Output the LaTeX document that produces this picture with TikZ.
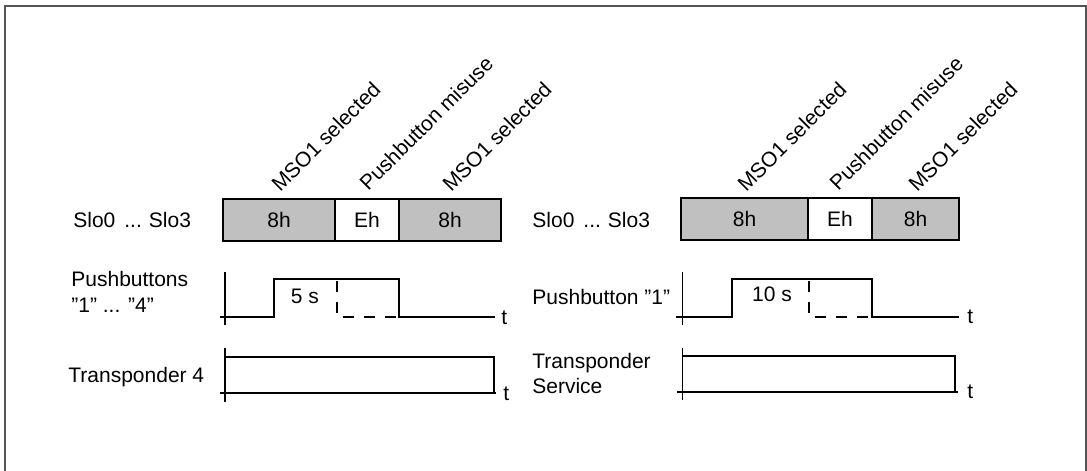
\documentclass[tikz,border=0pt]{standalone}
\usepackage{fontspec}
\setmainfont{Liberation Sans}
\usepackage{tikz}
\usetikzlibrary{positioning}
\definecolor{slotGray}{RGB}{192,192,192}
\definecolor{frameGray}{RGB}{85,85,85}

\begin{document}
\begin{tikzpicture}[
    x=0.5pt, y=-0.5pt,
    font=\fontsize{10.5}{12.9}\selectfont,
    seg/.style={draw, fill=slotGray, line width=1pt, outer sep=0pt, inner sep=0pt, minimum height=21pt},
    misuse/.style={seg, fill=white},
    diag/.style={rotate=45, anchor=base west, inner sep=0pt},
    lbl/.style={anchor=west, align=left, inner sep=0pt},
    tlbl/.style={anchor=west, inner sep=0pt},
    sig/.style={line width=1pt},
    axis/.style={line width=0.6pt},
    ghost/.style={sig, dash pattern=on 5.5pt off 5pt}
  ]
  \useasboundingbox (0,0) rectangle (1087,471);
  \draw[frameGray, line width=1pt] (5,471) -- (5,6) -- (1086,6) -- (1086,471);

  % left half: pushbuttons "1" ... "4"
  \node[lbl] (slotL) at (73,220) {Slo0\hspace{4.5pt}...\hspace{3.5pt}Slo3};
  \node[seg, minimum width=56pt] (a1) at (279,219.5) {8h};
  \node[misuse, minimum width=32pt, right=0pt of a1] (a2) {Eh};
  \node[seg, minimum width=51pt, right=0pt of a2] (a3) {8h};
  \node[diag] (ma1) at (280,193) {MSO1 selected};
  \node[diag] (ma2) at (368,192) {Pushbutton misuse};
  \node[diag] (ma3) at (451,193) {MSO1 selected};

  \node[lbl] (pbL) at (71,292) {Pushbuttons\\"1" ... "4"};
  \draw[axis] (225,272) -- (225,325);
  \draw[sig] (220,316.7) -- (274,316.7) -- (274,279) -- (399,279) -- (399,316.7) -- (495,316.7);
  \draw[ghost] (336.7,281) -- (336.7,316.7) -- (399,316.7);
  \node (pbTimeL) at (305,296) {5 s};
  \node[tlbl] (tA) at (501,318) {t};

  \node[lbl] (trL) at (68,377) {Transponder 4};
  \draw[axis] (225,348) -- (225,402);
  \draw[sig] (225,357) -- (494,357) -- (494,393);
  \draw[sig] (220,393) -- (496,393);
  \node[tlbl] (tB) at (503,394) {t};

  % right half: pushbutton "1"
  \node[lbl] (slotR) at (532,220) {Slo0\hspace{4.5pt}...\hspace{3.5pt}Slo3};
  \node[seg, minimum width=63.5pt] (b1) at (744.5,219) {8h};
  \node[misuse, minimum width=32pt, right=0pt of b1] (b2) {Eh};
  \node[seg, minimum width=43.5pt, right=0pt of b2] (b3) {8h};
  \node[diag] (mb1) at (746,193) {MSO1 selected};
  \node[diag] (mb2) at (838,192) {Pushbutton misuse};
  \node[diag] (mb3) at (917,193) {MSO1 selected};

  \node[lbl] (pbR) at (532,297) {Pushbutton "1"};
  \draw[axis] (682.7,272) -- (682.7,325);
  \draw[sig] (676,316.7) -- (732.3,316.7) -- (732.3,279) -- (872,279) -- (872,316.7) -- (959,316.7);
  \draw[ghost] (809,281) -- (809,316.7) -- (872,316.7);
  \node (pbTimeR) at (772,294) {10 s};
  \node[tlbl] (tC) at (967,317) {t};

  \node[lbl] (trR) at (532,373.5) {Transponder\\Service};
  \draw[axis] (682.7,348) -- (682.7,400);
  \draw[sig] (683,356) -- (955,356) -- (955,392);
  \draw[sig] (677,392) -- (958,392);
  \node[tlbl] (tD) at (967,392) {t};
\end{tikzpicture}
\end{document}
